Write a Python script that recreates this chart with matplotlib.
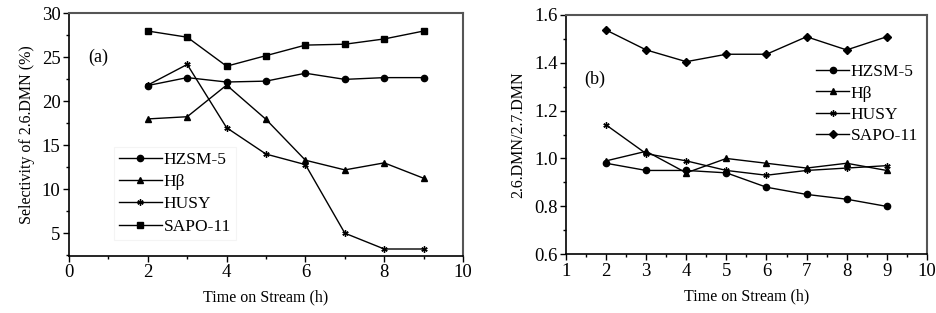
import matplotlib
matplotlib.use("Agg")
import matplotlib.pyplot as plt
from matplotlib.ticker import MultipleLocator

plt.rcParams['font.family'] = ['Liberation Serif', 'DejaVu Serif']
plt.rcParams['mathtext.fontset'] = 'stix'

time = [2, 3, 4, 5, 6, 7, 8, 9]
series_names = ["HZSM-5", "Hβ", "HUSY", "SAPO-11"]

# Panel (a): selectivity of 2.6-DMN (%)
sel_hzsm5 = [21.8, 22.7, 22.2, 22.3, 23.2, 22.5, 22.7, 22.7]
sel_hbeta = [18.0, 18.25, 21.85, 17.95, 13.3, 12.2, 13.0, 11.25]
sel_husy = [21.85, 24.2, 17.0, 14.0, 12.8, 5.0, 3.2, 3.2]
sel_sapo = [28.0, 27.3, 24.0, 25.2, 26.4, 26.5, 27.1, 28.0]

# Panel (b): 2.6-DMN / 2.7-DMN ratio
rat_hzsm5 = [0.98, 0.95, 0.95, 0.94, 0.88, 0.85, 0.83, 0.80]
rat_hbeta = [0.99, 1.03, 0.94, 1.00, 0.98, 0.96, 0.98, 0.95]
rat_husy = [1.14, 1.02, 0.99, 0.95, 0.93, 0.95, 0.96, 0.97]
rat_sapo = [1.536, 1.453, 1.404, 1.435, 1.435, 1.508, 1.453, 1.508]

fig = plt.figure(figsize=(9.36, 3.13), dpi=100)
axa = fig.add_axes([0.0737, 0.182, 0.421, 0.775])
axb = fig.add_axes([0.6047, 0.1875, 0.3855, 0.7655])

def style(ax):
    for s in ['left', 'bottom']:
        ax.spines[s].set_color('black')
        ax.spines[s].set_linewidth(1.2)
    for s in ['top', 'right']:
        ax.spines[s].set_color('#555555')
        ax.spines[s].set_linewidth(1.5)
    ax.tick_params(which='both', direction='out', top=False, right=False,
                   labelsize=13.5, width=1, color='black', pad=2)
    ax.tick_params(which='major', length=4)
    ax.tick_params(which='minor', length=2.5)

lw = 1.0
ms = 4.5
mk = ['o', '^', (6, 2, 0), 's']

dA = [sel_hzsm5, sel_hbeta, sel_husy, sel_sapo]
for name, vals, m in zip(series_names, dA, mk):
    axa.plot(time, vals, color='black', lw=lw, marker=m, ms=ms, mew=1.0, label=name)
axa.set_xlim(0, 10)
axa.set_ylim(2.4, 30)
axa.xaxis.set_major_locator(MultipleLocator(2))
axa.xaxis.set_minor_locator(MultipleLocator(1))
axa.yaxis.set_minor_locator(MultipleLocator(2.5))
axa.set_yticks([5, 10, 15, 20, 25, 30])
style(axa)
axa.set_xlabel("Time on Stream (h)", fontsize=11.5, labelpad=6)
axa.set_ylabel("Selectivity of 2.6.DMN (%)", fontsize=11.5, labelpad=5)
axa.text(0.5, 25.0, "(a)", fontsize=13, va='center', ha='left')
lega = axa.legend(loc='upper left', bbox_to_anchor=(0.092, 0.487), fontsize=12.5,
                  handlelength=2.45, handletextpad=0.1, labelspacing=0.35,
                  frameon=True, fancybox=False, borderpad=0.3)
lega.get_frame().set_edgecolor('#f2f2f2')
lega.get_frame().set_linewidth(0.8)

dB = [rat_hzsm5, rat_hbeta, rat_husy, rat_sapo]
mkb = ['o', '^', (6, 2, 0), 'D']
for name, vals, m in zip(series_names, dB, mkb):
    axb.plot(time, vals, color='black', lw=lw, marker=m, ms=ms, mew=1.0, label=name)
axb.set_xlim(1, 10)
axb.set_ylim(0.6, 1.6)
axb.xaxis.set_major_locator(MultipleLocator(1))
axb.xaxis.set_minor_locator(MultipleLocator(0.5))
axb.yaxis.set_major_locator(MultipleLocator(0.2))
axb.yaxis.set_minor_locator(MultipleLocator(0.1))
style(axb)
axb.set_xlabel("Time on Stream (h)", fontsize=11.5, labelpad=6)
axb.set_ylabel("2.6.DMN/2.7.DMN", fontsize=11.5, labelpad=6)
axb.text(1.45, 1.33, "(b)", fontsize=13, va='center', ha='left')
axb.legend(loc='upper left', bbox_to_anchor=(0.655, 0.852), fontsize=12.5,
           handlelength=1.9, handletextpad=0.1, labelspacing=0.3,
           frameon=False, borderpad=0.3)

fig.savefig("out.png", dpi=100)
